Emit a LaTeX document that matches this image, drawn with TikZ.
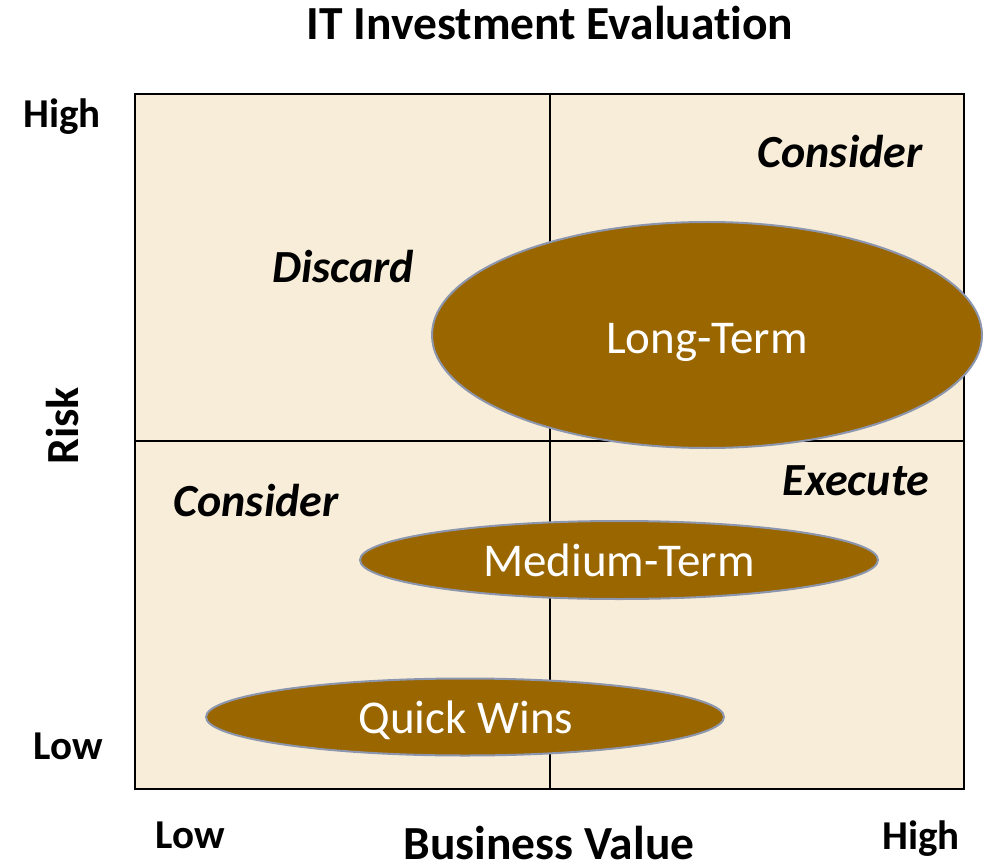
\documentclass[tikz,border=0pt]{standalone}
\usepackage{fontspec}
\setmainfont{Carlito}[Ligatures=CommonOff]
\usetikzlibrary{shapes.geometric}
\definecolor{boxfill}{RGB}{248,237,217}
\definecolor{blobfill}{RGB}{153,102,0}
\definecolor{blobline}{RGB}{140,150,175}
\tikzset{
  quad/.style={draw=black, line width=2pt, fill=boxfill},
  divider/.style={draw=black, line width=2pt},
  blob/.style={ellipse, draw=blobline, line width=2pt, fill=blobfill, inner sep=0pt},
  blobtext/.style={text=white, font=\fontsize{47}{56}\selectfont, anchor=base, inner sep=0pt},
  quadtext/.style={font=\fontsize{46}{55}\selectfont\bfseries\itshape, anchor=base, inner sep=0pt},
  axisend/.style={font=\fontsize{41}{49}\selectfont\bfseries, anchor=base, inner sep=0pt},
  axistitle/.style={font=\fontsize{46}{55}\selectfont\bfseries, anchor=base, inner sep=0pt},
  titletext/.style={font=\fontsize{47.5}{57}\selectfont\bfseries, anchor=base, inner sep=0pt},
}
\begin{document}
\begin{tikzpicture}[x=1pt,y=1pt]
\useasboundingbox (0,0) rectangle (984,-866);
% title
\node[titletext] (title) at (550,-40) {IT Investment Evaluation};
% matrix
\draw[quad] (135,-94) rectangle (964,-789);
\coordinate (vtop) at (550,-94);
\coordinate (vbot) at (550,-789);
\coordinate (hl) at (135,-441);
\coordinate (hr) at (964,-441);
\draw[divider] (vtop) -- (vbot);
\draw[divider] (hl) -- (hr);
% quadrant labels
\node[quadtext] (cons1) at (840,-168) {Consider};
\node[quadtext] (disc) at (343,-283) {Discard};
\node[quadtext] (cons2) at (256,-516) {Consider};
\node[quadtext] (exec) at (856,-495) {Execute};
% ellipses
\node[blob, minimum width=550pt, minimum height=226pt] (lt) at (707,-335) {};
\node[blobtext] (ltl) at (707,-353) {Long-Term};
\node[blob, minimum width=518pt, minimum height=78pt] (mt) at (619,-560) {};
\node[blobtext] (mtl) at (619,-576) {Medium-Term};
\node[blob, minimum width=518pt, minimum height=77pt] (qw) at (465,-717) {};
\node[blobtext] (qwl) at (466,-733) {Quick Wins};
% axis labels
\node[axisend] (yhigh) at (62,-128) {High};
\node[axisend] (ylow) at (68,-759) {Low};
\node[axistitle, rotate=90] (risk) at (78,-426) {Risk};
\node[axisend] (xlow) at (190,-848) {Low};
\node[titletext, text depth=0pt] (bv) at (549,-859) {Business Value};
\node[axisend] (xhigh) at (921,-849) {High};
\end{tikzpicture}
\end{document}
